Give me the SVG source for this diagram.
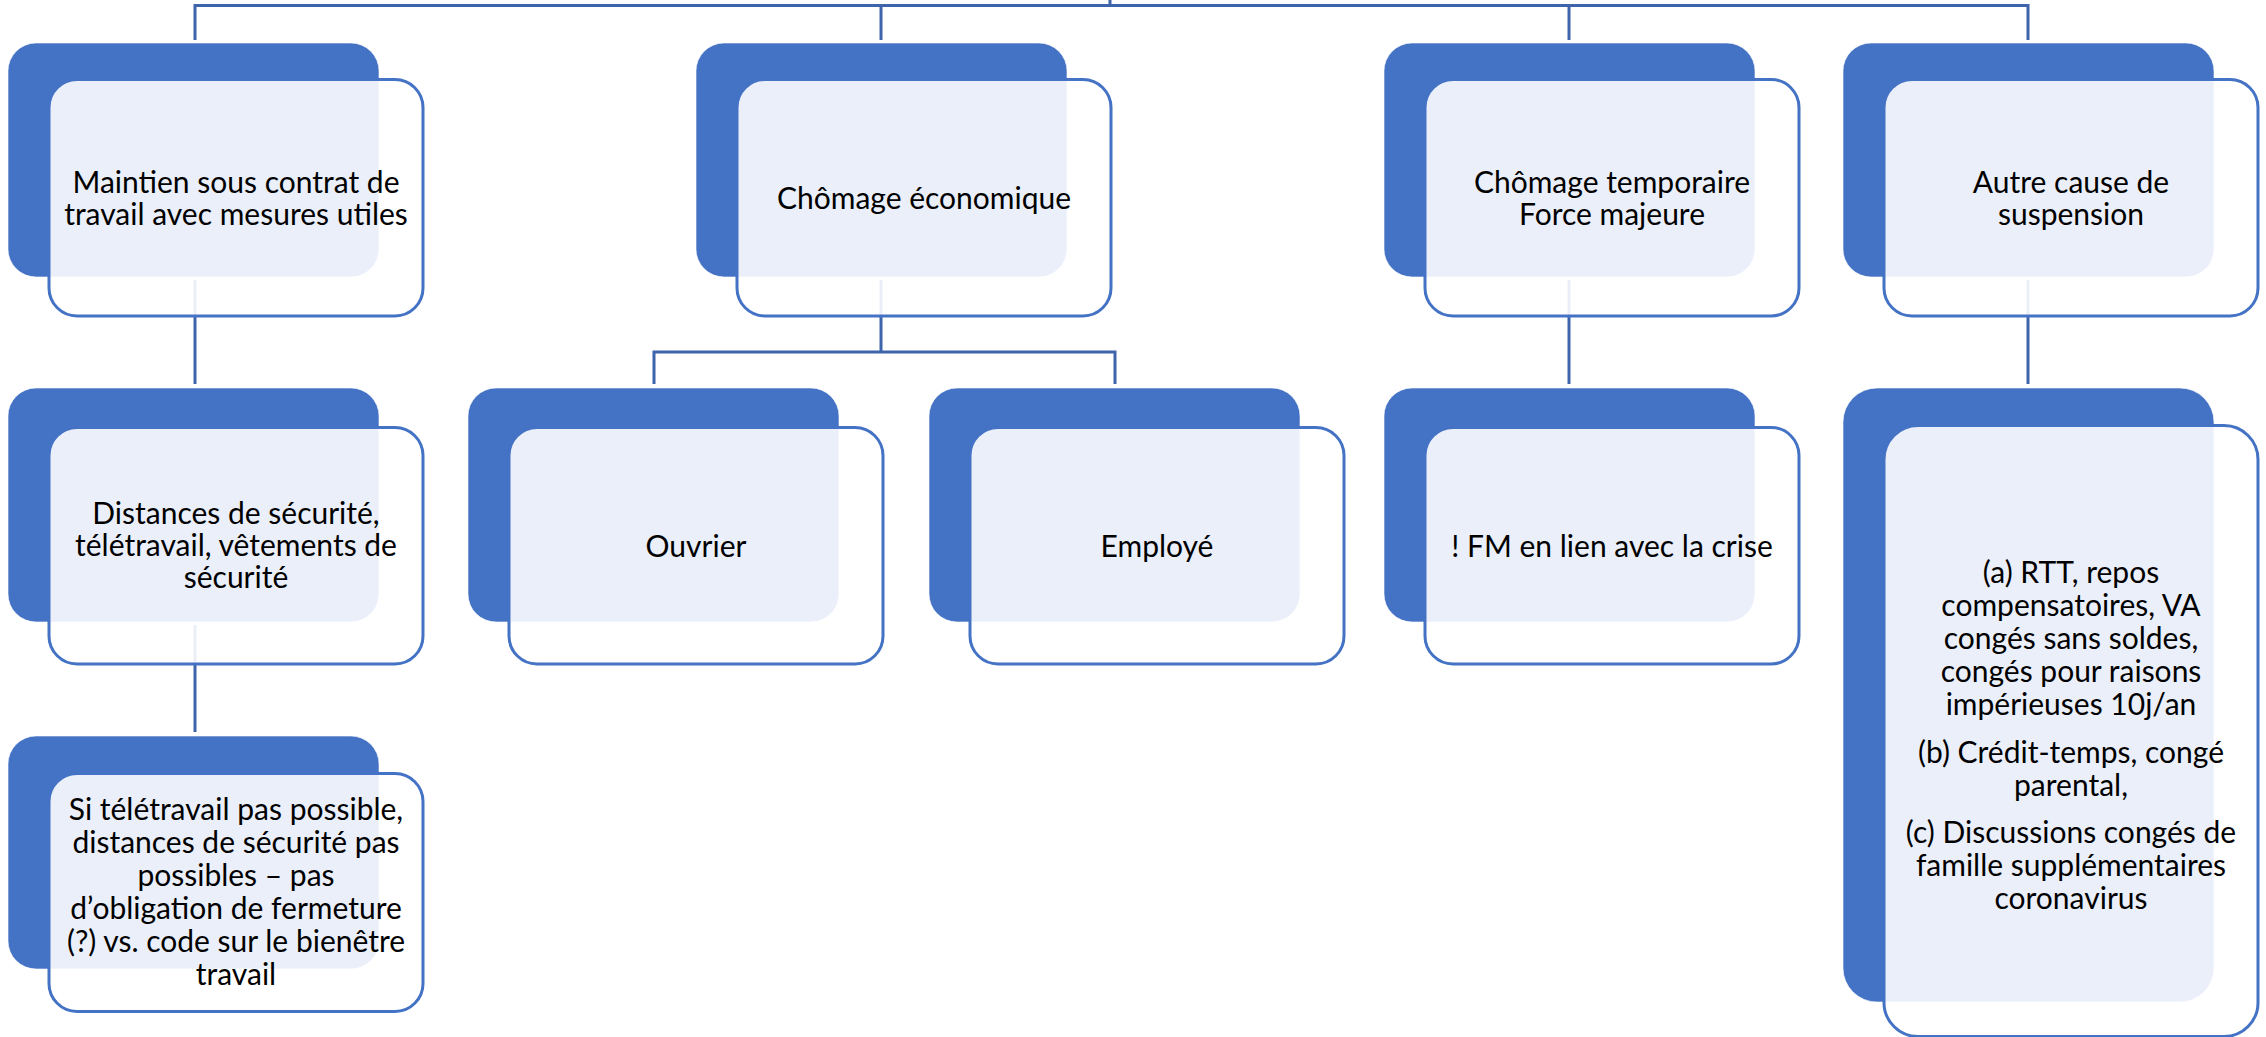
<svg xmlns="http://www.w3.org/2000/svg" width="2266" height="1037" viewBox="0 0 2266 1037">
  <style>
    .bg { fill: #4472C4; stroke: #ffffff; stroke-width: 1; stroke-opacity: 0.6; }
    .fg { fill: #ffffff; fill-opacity: 0.89; stroke: #4472C4; stroke-width: 3; }
    .lbl { font-family: Lato, "Open Sans", "Liberation Sans", sans-serif; font-size: 30px; fill: #000000; text-anchor: middle; }
    .conn { fill: none; stroke: #3E65AC; stroke-width: 3; }
  </style>
  <rect x="0" y="0" width="2266" height="1037" fill="#ffffff"/>
  <g id="connectors">
    <path class="conn" d="M1110,0 V5.5 M195,40 V5.5 H2028 V40 M881,5.5 V40 M1569,5.5 V40"/>
    <path class="conn" d="M195,280 V384"/>
    <path class="conn" d="M195,625 V732"/>
    <path class="conn" d="M881,280 V352 M654,384 V352 H1115 V384"/>
    <path class="conn" d="M1569,280 V384"/>
    <path class="conn" d="M2028,280 V384"/>
  </g>

  <g id="node-maintien">
    <rect class="bg" x="8" y="43" width="371" height="234" rx="28"/>
    <rect class="fg" x="49" y="79.5" width="374" height="236.5" rx="28"/>
    <text class="lbl" x="236" y="193">Maintien sous contrat de</text>
    <text class="lbl" x="236" y="225">travail avec mesures utiles</text>
  </g>

  <g id="node-chomage-eco">
    <rect class="bg" x="696" y="43" width="371" height="234" rx="28"/>
    <rect class="fg" x="737" y="79.5" width="374" height="236.5" rx="28"/>
    <text class="lbl" x="924" y="209">Chômage économique</text>
  </g>

  <g id="node-chomage-temp">
    <rect class="bg" x="1384" y="43" width="371" height="234" rx="28"/>
    <rect class="fg" x="1425" y="79.5" width="374" height="236.5" rx="28"/>
    <text class="lbl" x="1612" y="193">Chômage temporaire</text>
    <text class="lbl" x="1612" y="225">Force majeure</text>
  </g>

  <g id="node-autre">
    <rect class="bg" x="1843" y="43" width="371" height="234" rx="28"/>
    <rect class="fg" x="1884" y="79.5" width="374" height="236.5" rx="28"/>
    <text class="lbl" x="2071" y="193">Autre cause de</text>
    <text class="lbl" x="2071" y="225">suspension</text>
  </g>

  <g id="node-distances">
    <rect class="bg" x="8" y="388" width="371" height="234" rx="28"/>
    <rect class="fg" x="49" y="427.5" width="374" height="236.5" rx="28"/>
    <text class="lbl" x="236" y="524">Distances de sécurité,</text>
    <text class="lbl" x="236" y="556">télétravail, vêtements de</text>
    <text class="lbl" x="236" y="588">sécurité</text>
  </g>

  <g id="node-ouvrier">
    <rect class="bg" x="468" y="388" width="371" height="234" rx="28"/>
    <rect class="fg" x="509" y="427.5" width="374" height="236.5" rx="28"/>
    <text class="lbl" x="696" y="557">Ouvrier</text>
  </g>

  <g id="node-employe">
    <rect class="bg" x="929" y="388" width="371" height="234" rx="28"/>
    <rect class="fg" x="970" y="427.5" width="374" height="236.5" rx="28"/>
    <text class="lbl" x="1157" y="557">Employé</text>
  </g>

  <g id="node-fm">
    <rect class="bg" x="1384" y="388" width="371" height="234" rx="28"/>
    <rect class="fg" x="1425" y="427.5" width="374" height="236.5" rx="28"/>
    <text class="lbl" x="1612" y="557">! FM en lien avec la crise</text>
  </g>

  <g id="node-conges">
    <rect class="bg" x="1843" y="388" width="371" height="614" rx="34"/>
    <rect class="fg" x="1884" y="425.5" width="374" height="611" rx="34"/>
    <text class="lbl" x="2071" y="583">(a) RTT, repos</text>
    <text class="lbl" x="2071" y="616">compensatoires, VA</text>
    <text class="lbl" x="2071" y="649">congés sans soldes,</text>
    <text class="lbl" x="2071" y="682">congés pour raisons</text>
    <text class="lbl" x="2071" y="715">impérieuses 10j/an</text>
    <text class="lbl" x="2071" y="763">(b) Crédit-temps, congé</text>
    <text class="lbl" x="2071" y="796">parental,</text>
    <text class="lbl" x="2071" y="843">(c) Discussions congés de</text>
    <text class="lbl" x="2071" y="876">famille supplémentaires</text>
    <text class="lbl" x="2071" y="909">coronavirus</text>
  </g>

  <g id="node-fermeture">
    <rect class="bg" x="8" y="736" width="371" height="233" rx="28"/>
    <rect class="fg" x="49" y="773.5" width="374" height="238" rx="28"/>
    <text class="lbl" x="236" y="820">Si télétravail pas possible,</text>
    <text class="lbl" x="236" y="853">distances de sécurité pas</text>
    <text class="lbl" x="236" y="886">possibles – pas</text>
    <text class="lbl" x="236" y="919">d’obligation de fermeture</text>
    <text class="lbl" x="236" y="952">(?) vs. code sur le bienêtre</text>
    <text class="lbl" x="236" y="985">travail</text>
  </g>
</svg>
